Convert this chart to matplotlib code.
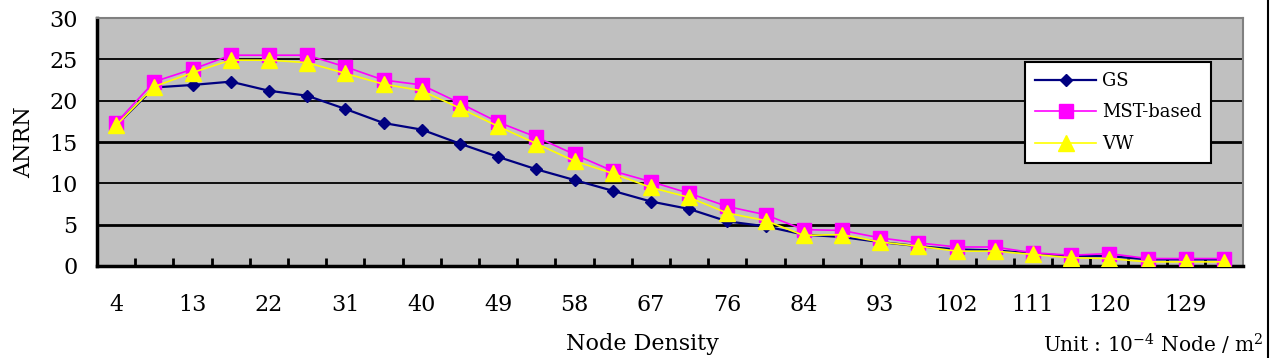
import matplotlib
matplotlib.use("Agg")
import matplotlib.pyplot as plt
from matplotlib.lines import Line2D

categories = [4, 8, 13, 17, 22, 26, 31, 35, 40, 44, 49, 53, 58, 62, 67,
              71, 76, 80, 84, 89, 93, 98, 102, 107, 111, 116, 120, 125, 129, 134]
labeled = [4, 13, 22, 31, 40, 49, 58, 67, 76, 84, 93, 102, 111, 120, 129]

gs = [17.0, 21.6, 21.9, 22.3, 21.2, 20.6, 19.0, 17.3, 16.5, 14.8, 13.2, 11.7, 10.4, 9.1, 7.8,
      6.9, 5.4, 4.8, 3.8, 3.5, 2.9, 2.4, 2.0, 1.9, 1.5, 1.2, 1.2, 0.8, 0.8, 0.8]
mst = [17.3, 22.3, 23.8, 25.5, 25.5, 25.5, 24.1, 22.5, 21.9, 19.7, 17.4, 15.6, 13.5, 11.5, 10.2,
       8.8, 7.2, 6.2, 4.4, 4.3, 3.4, 2.8, 2.3, 2.3, 1.6, 1.3, 1.5, 0.9, 0.9, 0.9]
vw = [17.0, 21.7, 23.4, 24.9, 24.9, 24.6, 23.3, 22.0, 21.2, 19.1, 16.9, 14.8, 12.7, 11.2, 9.5,
      8.3, 6.4, 5.5, 3.7, 3.8, 2.9, 2.4, 1.8, 1.8, 1.4, 1.0, 0.9, 0.5, 0.5, 0.5]
series_names = ["GS", "MST-based", "VW"]
yticks = [0, 5, 10, 15, 20, 25, 30]

serif = ["DejaVu Serif", "Liberation Serif"]
plt.rcParams["font.family"] = serif
plt.rcParams["mathtext.fontset"] = "dejavuserif"

fig = plt.figure(figsize=(12.76, 3.58), dpi=100)
ax = fig.add_axes([97/1276, 1 - 266/358, (1243-97)/1276, (266-18)/358])
ax.set_facecolor("#C0C0C0")

x = list(range(len(categories)))
ax.plot(x, gs, color="#000080", lw=1.6, marker="D", ms=6, mfc="#000080", mec="#000080", label=series_names[0], zorder=3)
ax.plot(x, mst, color="#FF00FF", lw=1.2, marker="s", ms=10, mfc="#FF00FF", mec="#FF00FF", label=series_names[1], zorder=4)
ax.plot(x, vw, color="#FFFF00", lw=1.2, marker="^", ms=11, mfc="#FFFF00", mec="#FFFF00", label=series_names[2], zorder=5)

ax.set_xlim(-0.5, len(categories) - 0.5)
ax.set_ylim(0, 30)

for v in yticks[1:-1]:
    lw = 2.0 if v in (5, 15) else 1.3
    ax.axhline(v, color="black", lw=lw, zorder=1)

ax.set_yticks(yticks)
ax.set_yticklabels([str(v) for v in yticks])
lab_pos = [categories.index(c) for c in labeled]
ax.set_xticks(lab_pos)
ax.set_xticklabels([str(c) for c in labeled])
ax.set_xticks([i + 0.5 for i in range(len(categories) - 1)], minor=True)
ax.tick_params(axis="x", which="major", length=0, pad=20, labelsize=16)
ax.tick_params(axis="x", which="minor", direction="in", length=6, width=2, color="black")
ax.tick_params(axis="y", which="major", length=0, pad=14, labelsize=16)

for s in ("left", "bottom"):
    ax.spines[s].set_color("black")
    ax.spines[s].set_linewidth(2.5)
for s in ("top", "right"):
    ax.spines[s].set_color("#808080")
    ax.spines[s].set_linewidth(1.5)

ax.set_ylabel("ANRN", fontsize=16, labelpad=10)
fig.text(642/1276, 1 - 344/358, "Node Density", fontsize=16, ha="center", va="center")
fig.text(1264/1276, 1 - 344/358, r"Unit : 10$^{\mathregular{-4}}$ Node / m$^{\mathregular{2}}$",
         fontsize=14.5, ha="right", va="center")

leg = ax.legend(loc="upper left", bbox_to_anchor=((1025-97)/1146, 1 - (62-18)/248),
                frameon=True, fancybox=False, fontsize=13, handlelength=3.4,
                borderpad=0.55, labelspacing=0.75, handletextpad=0.3, framealpha=1,
                borderaxespad=0)
leg.get_frame().set_edgecolor("black")
leg.get_frame().set_linewidth(1.5)
leg.get_frame().set_facecolor("white")
leg.set_zorder(10)

fig.add_artist(Line2D([1268/1276, 1268/1276], [0, 1], color="black", lw=1.5))

fig.savefig("out.png", dpi=100)
